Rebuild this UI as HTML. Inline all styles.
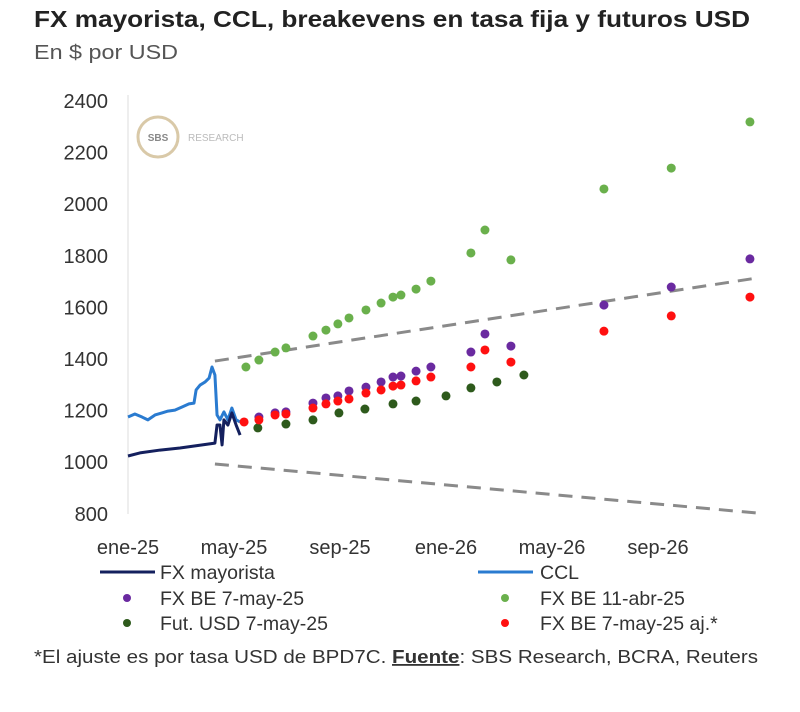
<!DOCTYPE html>
<html><head><meta charset="utf-8"><style>
body{margin:0;background:#fff;width:800px;height:707px;overflow:hidden;font-family:"Liberation Sans",sans-serif}
</style></head><body>
<svg id="c" width="800" height="707" xmlns="http://www.w3.org/2000/svg" style="font-family:'Liberation Sans',sans-serif">
<text x="34" y="27" font-size="23" font-weight="bold" fill="#222" textLength="716" lengthAdjust="spacingAndGlyphs">FX mayorista, CCL, breakevens en tasa fija y futuros USD</text>
<text x="34" y="59" font-size="20" fill="#555" textLength="144" lengthAdjust="spacingAndGlyphs">En $ por USD</text>
<g>
<circle cx="158" cy="137" r="20" fill="none" stroke="#d9c9a8" stroke-width="3"/>
<text x="158" y="141" font-size="10" text-anchor="middle" fill="#888" font-weight="bold">SBS</text>
<text x="188" y="141" font-size="10" fill="#bbb">RESEARCH</text>
</g>
<line x1="128" y1="95" x2="128" y2="514" stroke="#ddd"/>
<g id="yt"></g><g id="xt"></g><g id="marks"></g>
<g font-size="19.5" fill="#333">
<line x1="100" y1="572" x2="155" y2="572" stroke="#14205e" stroke-width="3"/>
<text x="160" y="579">FX mayorista</text>
<line x1="478" y1="572" x2="533" y2="572" stroke="#2a7bd0" stroke-width="3"/>
<text x="540" y="579">CCL</text>
<circle cx="127" cy="598" r="4" fill="#6a2aa0"/>
<text x="160" y="605">FX BE 7-may-25</text>
<circle cx="505" cy="598" r="4" fill="#6ab04c"/>
<text x="540" y="605">FX BE 11-abr-25</text>
<circle cx="127" cy="623" r="4" fill="#2e5a1c"/>
<text x="160" y="630">Fut. USD 7-may-25</text>
<circle cx="505" cy="623" r="4" fill="#ff1010"/>
<text x="540" y="630">FX BE 7-may-25 aj.*</text>
</g>
<text x="34" y="663" font-size="18" fill="#333" textLength="724" lengthAdjust="spacingAndGlyphs">*El ajuste es por tasa USD de BPD7C. <tspan font-weight="bold" text-decoration="underline">Fuente</tspan>: SBS Research, BCRA, Reuters</text>
</svg>
<script>
const yTicks=[800,1000,1200,1400,1600,1800,2000,2200,2400];
const xTickLabels=["ene-25","may-25","sep-25","ene-26","may-26","sep-26"];
const xTickMonths=[0,4,8,12,16,20];
const beT=[4.45,4.94,5.55,5.96,6.98,7.47,7.92,8.34,8.98,9.55,10.0,10.3,10.87,11.43,12.94,13.47,14.45,17.96,20.5,23.47];
const green=[1369,1396,1427,1443,1489,1512,1536,1559,1590,1617,1640,1648,1671,1702,1811,1900,1784,2059,2140,2319];
const purpleT=[4.94,5.55,5.96,6.98,7.47,7.92,8.34,8.98,9.55,10.0,10.3,10.87,11.43,12.94,13.47,14.45,17.96,20.5,23.47];
const purple=[1175,1191,1195,1229,1249,1257,1276,1291,1311,1330,1334,1353,1369,1427,1497,1450,1609,1679,1788];
const redT=[4.38,4.94,5.55,5.96,6.98,7.47,7.92,8.34,8.98,9.55,10.0,10.3,10.87,11.43,12.94,13.47,14.45,17.96,20.5,23.47];
const red=[1156,1164,1183,1187,1210,1226,1237,1245,1268,1280,1295,1299,1315,1330,1369,1435,1388,1508,1567,1640];
const futT=[4.9,5.96,6.98,7.96,8.94,10.0,10.87,12.0,12.94,13.92,14.94];
const fut=[1133,1148,1164,1191,1206,1226,1237,1257,1288,1311,1338];
const cclT=[0,.26,.53,.75,1.02,1.28,1.51,1.77,2.04,2.30,2.49,2.57,2.72,2.91,3.06,3.17,3.28,3.36,3.47,3.62,3.77,3.92,4.08,4.23];
const ccl=[1175,1187,1175,1164,1183,1191,1198,1202,1214,1226,1229,1280,1299,1311,1326,1369,1338,1183,1164,1195,1164,1210,1164,1156];
const fxT=[0,.45,1.21,1.96,3.28,3.36,3.47,3.55,3.62,3.77,3.92,4.08,4.23];
const fx=[1024,1036,1047,1055,1074,1144,1144,1067,1164,1144,1191,1144,1105];
const bandT=[3.28,23.74];
const upper=[1392,1714];
const lower=[993,803];
const X=m=>128+m*26.5, Y=v=>101+(2400-v)*51.6/200;
const NS="http://www.w3.org/2000/svg";
function mk(t,a,p){const e=document.createElementNS(NS,t);for(const k in a)e.setAttribute(k,a[k]);p.appendChild(e);return e;}
const yt=document.getElementById('yt'),xt=document.getElementById('xt'),mg=document.getElementById('marks');
yTicks.forEach(v=>{const t=mk('text',{x:108,y:Y(v)+7,'font-size':20,'text-anchor':'end',fill:'#333'},yt);t.textContent=v;

});
xTickLabels.forEach((l,i)=>{const t=mk('text',{x:X(xTickMonths[i]),y:554,'font-size':20,'text-anchor':'middle',fill:'#333'},xt);t.textContent=l;

});
function band(vals,name){const l=mk('line',{x1:X(bandT[0]),y1:Y(vals[0]),x2:X(bandT[1]),y2:Y(vals[1]),stroke:'#8a8a8a','stroke-width':3,'stroke-dasharray':'14 9'},mg);

}
band(upper,'upper-band-line');band(lower,'lower-band-line');
function line(ts,vs,col,name){const p=mk('polyline',{points:ts.map((t,i)=>X(t)+','+Y(vs[i])).join(' '),fill:'none',stroke:col,'stroke-width':3,'stroke-linejoin':'round'},mg);

}
line(cclT,ccl,'#2a7bd0','ccl-line');line(fxT,fx,'#14205e','fx-mayorista-line');
function dots(ts,vs,col,name){ts.forEach((t,i)=>{const c=mk('circle',{cx:X(t),cy:Y(vs[i]),r:4.5,fill:col},mg);

});}
dots(beT,green,'#6ab04c','fx-be-11abr-point');
dots(futT,fut,'#2e5a1c','fut-usd-point');
dots(purpleT,purple,'#6a2aa0','fx-be-7may-point');
dots(redT,red,'#ff1010','fx-be-aj-point');
</script>
</body></html>
